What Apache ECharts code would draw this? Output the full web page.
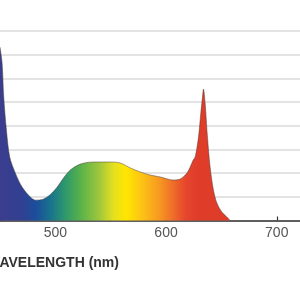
<!DOCTYPE html>
<html>
<head>
<meta charset="utf-8">
<script src="https://cdn.jsdelivr.net/npm/echarts@6/dist/echarts.min.js"></script>
<style>
  html, body { margin: 0; padding: 0; background: #fff; }
  #chart { width: 300px; height: 300px; }
</style>
</head>
<body>
<div id="chart"></div>
<script>
// wavelength (nm) and relative intensity
const wavelengths = [450, 451.9, 453.4, 455.8, 458.8, 463.9, 470, 477.4, 482, 489, 495.5, 501.5, 507.5, 513.5,
    522.6, 534.3, 549.6, 558.6, 567.7, 576.7, 585.7, 594.7, 606.4, 612.8, 618.8, 621.8, 624.5, 626.3,
    629.3, 631.4, 632.9, 633.8, 635.3, 637.4, 639.8, 642.8, 645.9, 650.4, 654.9, 658];
const intensity = [7.32, 6.65, 5.21, 3.82, 2.68, 2.0, 1.41, 0.99, 0.86, 0.9, 1.1, 1.4, 1.8, 2.13,
    2.38, 2.47, 2.47, 2.43, 2.22, 2.05, 1.92, 1.84, 1.71, 1.75, 2.0, 2.26, 2.55, 2.68,
    3.52, 4.54, 5.21, 5.55, 4.96, 3.52, 2.26, 1.29, 0.74, 0.36, 0.15, 0];
const tickLabels = [500, 600, 700];
const axisTitle = 'WAVELENGTH (nm)';

const chart = echarts.init(document.getElementById('chart'));

const spectrum = new echarts.graphic.LinearGradient(0, 0, 300, 0, [
    { offset: 0.00, color: '#3b3d8e' },
    { offset: 0.07, color: '#323f91' },
    { offset: 0.12, color: '#1b4e9b' },
    { offset: 0.17, color: '#19748c' },
    { offset: 0.22, color: '#2f9a6a' },
    { offset: 0.27, color: '#5ab24a' },
    { offset: 0.33, color: '#9ec63c' },
    { offset: 0.38, color: '#e6e020' },
    { offset: 0.42, color: '#ffe600' },
    { offset: 0.47, color: '#fcc514' },
    { offset: 0.53, color: '#f79a20' },
    { offset: 0.58, color: '#ee6a2a' },
    { offset: 0.62, color: '#e5452d' },
    { offset: 0.66, color: '#e03c2a' },
    { offset: 1.00, color: '#e03c2a' }
], true);

chart.setOption({
    animation: false,
    grid: { left: 0, right: 0, top: 31, bottom: 79.5, outerBoundsMode: 'none', containLabel: false },
    xAxis: {
        type: 'value',
        min: 450,
        max: 721,
        interval: 50,
        axisLine: { show: true, onZero: false, lineStyle: { color: '#333', width: 1.5 } },
        axisTick: { show: true, inside: true, length: 4, lineStyle: { color: '#333', width: 1.2 } },
        splitLine: { show: false },
        axisLabel: {
            margin: 6,
            color: '#555',
            fontFamily: 'Liberation Sans, Arial, sans-serif',
            fontSize: 14,
            showMaxLabel: false,
            formatter: v => tickLabels.includes(v) ? String(v) : ''
        }
    },
    yAxis: {
        type: 'value',
        min: 0,
        max: 8,
        interval: 1,
        axisLine: { show: false },
        axisTick: { show: false },
        axisLabel: { show: false },
        splitLine: { lineStyle: { color: '#dadada', width: 1.5 } }
    },
    graphic: [{
        type: 'text',
        left: -13,
        top: 256,
        style: {
            text: axisTitle,
            fill: '#333',
            font: 'bold 14px "Liberation Sans", Arial, sans-serif'
        }
    }],
    series: [{
        type: 'line',
        data: wavelengths.map((w, i) => [w, intensity[i]]),
        showSymbol: false,
        smooth: 0.3,
        lineStyle: { color: 'rgba(70,60,50,0.6)', width: 0.8 },
        areaStyle: { color: spectrum, opacity: 1 }
    }]
});
</script>
</body>
</html>
